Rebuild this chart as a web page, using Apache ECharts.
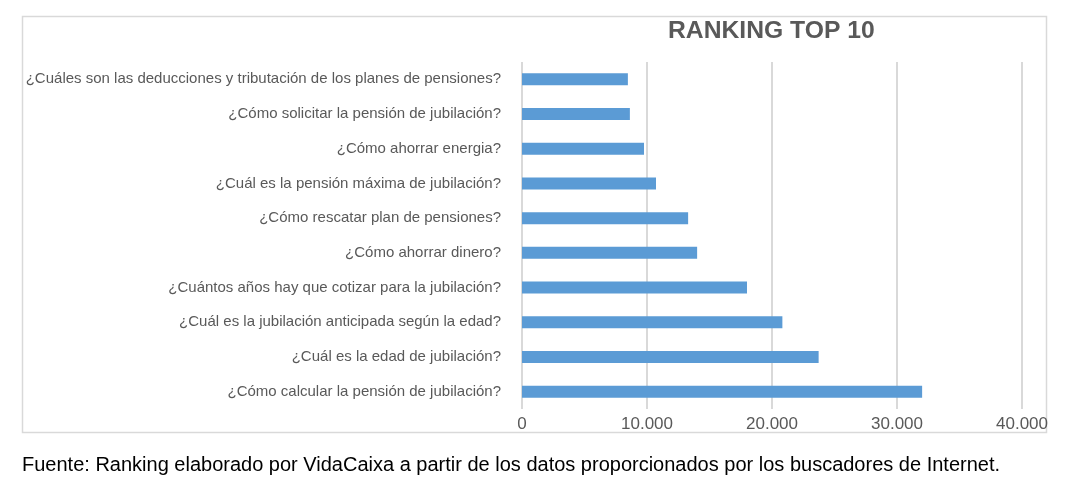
<!DOCTYPE html>
<html>
<head>
<meta charset="utf-8">
<script src="https://cdn.jsdelivr.net/npm/echarts@6/dist/echarts.min.js"></script>
<style>
html, body { margin: 0; padding: 0; background: #fff; }
#main { width: 1074px; height: 498px; }
</style>
</head>
<body>
<div id="main"></div>
<script>
// ranking data, top to bottom as shown
var preguntas = [
    '¿Cuáles son las deducciones y tributación de los planes de pensiones?',
    '¿Cómo solicitar la pensión de jubilación?',
    '¿Cómo ahorrar energia?',
    '¿Cuál es la pensión máxima de jubilación?',
    '¿Cómo rescatar plan de pensiones?',
    '¿Cómo ahorrar dinero?',
    '¿Cuántos años hay que cotizar para la jubilación?',
    '¿Cuál es la jubilación anticipada según la edad?',
    '¿Cuál es la edad de jubilación?',
    '¿Cómo calcular la pensión de jubilación?'
];
var busquedas = [8470, 8630, 9760, 10720, 13290, 14010, 18000, 20830, 23730, 32010];

var fuente = 'Fuente: Ranking elaborado por VidaCaixa a partir de los datos proporcionados por los buscadores de Internet.';

function miles(v) {
    return String(v).replace(/\B(?=(\d{3})+(?!\d))/g, '.');
}

var option = {
    animation: false,
    textStyle: { fontFamily: 'Liberation Sans, Arial, sans-serif' },
    title: {
        text: 'RANKING TOP 10',
        left: 668,
        top: 19,
        padding: 0,
        textStyle: { fontSize: 24.7, fontWeight: 'bold', color: '#595959' }
    },
    grid: { left: 522, right: 52, top: 62, bottom: 89, containLabel: false },
    xAxis: {
        type: 'value',
        min: 0,
        max: 40000,
        interval: 10000,
        axisLine: { show: false },
        axisTick: { show: false },
        axisLabel: { color: '#595959', fontSize: 17, margin: 7, formatter: miles },
        splitLine: { lineStyle: { color: '#d9d9d9', width: 2 } }
    },
    yAxis: {
        type: 'category',
        inverse: true,
        data: preguntas,
        axisLine: { show: false },
        axisTick: { show: false },
        axisLabel: { color: '#595959', fontSize: 15, margin: 21 }
    },
    series: [{
        type: 'bar',
        data: busquedas,
        barWidth: 12,
        itemStyle: { color: '#5b9bd5' }
    }],
    graphic: [
        {
            type: 'rect',
            shape: { x: 22.5, y: 16.5, width: 1024, height: 416 },
            style: { fill: 'none', stroke: '#d9d9d9', lineWidth: 1.5 },
            z: -1
        },
        {
            type: 'text',
            left: 22,
            top: 455,
            style: {
                text: fuente,
                fill: '#000',
                font: '20px "Liberation Sans", Arial, sans-serif'
            }
        }
    ]
};

var chart = echarts.init(document.getElementById('main'));
chart.setOption(option);
</script>
</body>
</html>
